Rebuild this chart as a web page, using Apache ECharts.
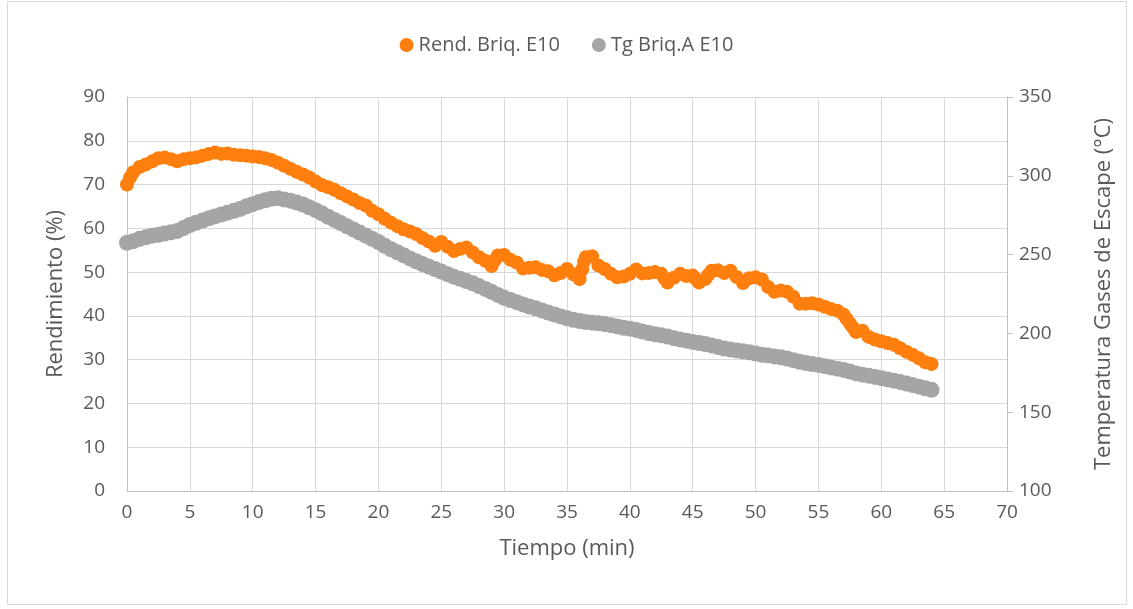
<!DOCTYPE html>
<html>
<head>
<meta charset="utf-8">
<script src="https://cdn.jsdelivr.net/npm/echarts@6/dist/echarts.min.js"></script>
<style>html,body{margin:0;padding:0;background:#fff}#c{width:1133px;height:609px}</style>
</head>
<body>
<div id="c"></div>
<script>
// Rend. Briq. E10: time (min) and efficiency (%)
const tiempoRend = [0,0.25,0.5,1,1.5,2,2.5,3,3.5,4,4.5,5,5.5,6,6.5,7,7.5,8,8.5,9,9.5,10,10.5,11,11.5,12,12.5,13,13.5,14,14.5,15,15.5,16,16.5,17,17.5,18,18.5,19,19.5,20,20.5,21,21.5,22,22.5,23,23.5,24,24.5,25,25.5,26,26.5,27,27.5,28,28.5,29,29.25,29.5,30,30.5,31,31.5,32,32.5,33,33.5,34,34.5,35,35.5,36,36.2,36.35,36.5,37,37.5,38,38.5,39,39.5,40,40.5,41,41.5,42,42.5,42.75,43,43.5,44,44.5,45,45.25,45.5,46,46.25,46.5,47,47.5,48,48.5,49,49.5,50,50.5,51,51.5,52,52.5,53,53.5,54,54.5,55,55.5,56,56.5,57,57.25,57.5,57.75,58,58.5,59,59.5,60,60.5,61,61.5,62,62.5,63,63.5,64];
const rendimiento = [70.0,71.6,72.8,74.0,74.6,75.3,76.0,76.2,75.8,75.3,75.8,76.0,76.2,76.6,77.0,77.3,77.0,77.1,76.8,76.7,76.6,76.4,76.3,76.0,75.6,75.0,74.3,73.6,72.9,72.3,71.6,70.7,69.9,69.4,68.8,68.0,67.3,66.6,65.8,65.2,64.0,63.2,62.2,61.3,60.5,59.8,59.3,58.7,57.8,57.0,56.0,56.9,55.8,54.8,55.3,55.6,54.5,53.4,52.6,51.4,52.7,53.8,53.9,52.8,52.2,50.8,51.0,51.1,50.5,50.2,49.3,49.8,50.7,49.5,48.4,50.6,52.4,53.4,53.6,51.5,50.7,49.6,48.8,49.0,49.6,50.6,49.7,49.8,50.0,49.6,48.6,47.6,48.7,49.6,49.1,49.2,48.4,47.6,48.4,49.4,50.3,50.4,49.8,50.3,48.9,47.5,48.6,48.8,48.3,46.6,45.5,45.8,45.5,44.4,42.8,42.8,42.9,42.6,42.1,41.6,41.2,40.3,39.3,38.3,37.3,36.3,36.6,35.2,34.6,34.2,33.8,33.4,32.6,31.8,31.1,30.3,29.4,29.0];
// Tg Briq.A E10: time (min) and flue gas temperature (°C)
const tiempoTg = [0,0.5,1,1.5,2,2.5,3,3.5,4,4.5,5,5.5,6,6.5,7,7.5,8,8.5,9,9.5,10,10.5,11,11.5,12,12.5,13,13.5,14,14.5,15,15.5,16,16.5,17,17.5,18,18.5,19,19.5,20,20.5,21,21.5,22,22.5,23,23.5,24,24.5,25,25.5,26,26.5,27,27.5,28,28.5,29,29.5,30,30.5,31,31.5,32,32.5,33,33.5,34,34.5,35,35.5,36,36.5,37,37.5,38,38.5,39,39.5,40,40.5,41,41.5,42,42.5,43,43.5,44,44.5,45,45.5,46,46.5,47,47.5,48,48.5,49,49.5,50,50.5,51,51.5,52,52.5,53,53.5,54,54.5,55,55.5,56,56.5,57,57.5,58,58.5,59,59.5,60,60.5,61,61.5,62,62.5,63,63.5,64];
const tempGases = [257.5,258.5,260.0,261.0,262.0,262.6,263.4,264.2,265.0,266.8,268.8,270.2,271.6,273.0,274.2,275.4,276.6,277.8,279.0,280.6,282.0,283.3,284.5,285.5,285.8,285.0,284.2,283.0,281.8,280.0,278.2,276.2,274.0,272.0,270.0,268.0,266.0,264.0,262.0,260.0,258.0,255.6,253.4,251.5,249.6,247.6,245.8,244.0,242.4,240.8,239.2,237.6,236.0,234.6,233.2,231.8,230.0,228.2,226.4,224.4,222.6,221.2,219.8,218.4,217.0,215.9,214.6,213.2,212.0,210.8,209.6,208.6,207.8,207.2,206.8,206.4,205.9,205.2,204.4,203.6,203.0,202.2,201.2,200.2,199.4,198.8,198.0,197.0,196.2,195.4,194.6,193.9,193.2,192.4,191.4,190.4,189.8,189.2,188.6,188.0,187.2,186.4,186.0,185.4,184.8,184.0,183.0,182.0,181.2,180.6,180.0,179.2,178.4,177.6,176.8,175.8,174.6,173.8,173.2,172.4,171.6,170.8,170.0,169.2,168.2,167.2,166.2,165.2,164.2];

const seriesNames = ['Rend. Briq. E10', 'Tg Briq.A E10'];
const xTitle = 'Tiempo (min)';
const yLeftTitle = 'Rendimiento (%)';
const yRightTitle = 'Temperatura Gases de Escape (°C)';

const FONT = '"Open Sans", sans-serif';
const TXT = '#595959';
const chart = echarts.init(document.getElementById('c'), null, {renderer: 'canvas'});
chart.setOption({
  animation: false,
  backgroundColor: '#fff',
  graphic: [{type: 'rect', shape: {x: 7.5, y: 1.5, width: 1119, height: 603}, style: {fill: 'none', stroke: '#d9d9d9', lineWidth: 1}, silent: true}],
  legend: {
    top: 30, left: 'center', itemGap: 32, itemWidth: 14, itemHeight: 14,
    textStyle: {color: TXT, fontSize: 20, fontFamily: FONT},
    data: [{name: seriesNames[0], icon: 'circle'}, {name: seriesNames[1], icon: 'circle'}]
  },
  grid: {left: 127, right: 126, top: 97, bottom: 118},
  xAxis: {
    type: 'value', min: 0, max: 70, interval: 5,
    name: xTitle, nameLocation: 'middle', nameGap: 47,
    nameTextStyle: {color: TXT, fontSize: 22, fontFamily: FONT},
    axisLine: {show: true, lineStyle: {color: '#bfbfbf'}},
    axisTick: {show: false},
    axisLabel: {color: TXT, fontSize: 19, fontFamily: FONT, margin: 12},
    splitLine: {show: true, lineStyle: {color: '#d9d9d9'}}
  },
  yAxis: [{
    type: 'value', min: 0, max: 90, interval: 10,
    name: yLeftTitle, nameLocation: 'middle', nameGap: 60, nameRotate: 90,
    nameTextStyle: {color: TXT, fontSize: 22, fontFamily: FONT},
    axisLine: {show: true, lineStyle: {color: '#bfbfbf'}},
    axisTick: {show: false},
    axisLabel: {color: TXT, fontSize: 19, fontFamily: FONT, margin: 22},
    splitLine: {show: true, lineStyle: {color: '#d9d9d9'}}
  }, {
    type: 'value', min: 100, max: 350, interval: 50, position: 'right',
    name: yRightTitle, nameLocation: 'middle', nameGap: 86, nameRotate: 90,
    nameTextStyle: {color: TXT, fontSize: 22, fontFamily: FONT},
    axisLine: {show: true, lineStyle: {color: '#bfbfbf'}},
    axisTick: {show: true, length: 6, inside: false, lineStyle: {color: '#bfbfbf'}},
    axisLabel: {color: TXT, fontSize: 19, fontFamily: FONT, margin: 12},
    splitLine: {show: false}
  }],
  series: [{
    name: seriesNames[1], type: 'scatter', yAxisIndex: 1, symbol: 'circle', symbolSize: 16, z: 2,
    itemStyle: {color: '#A5A5A5', opacity: 1},
    data: tiempoTg.map((t, i) => [t, tempGases[i]])
  }, {
    name: seriesNames[0], type: 'scatter', yAxisIndex: 0, symbol: 'circle', symbolSize: 14, z: 3,
    itemStyle: {color: '#FF7F0E', opacity: 1},
    data: tiempoRend.map((t, i) => [t, rendimiento[i]])
  }]
});
</script>
</body>
</html>
